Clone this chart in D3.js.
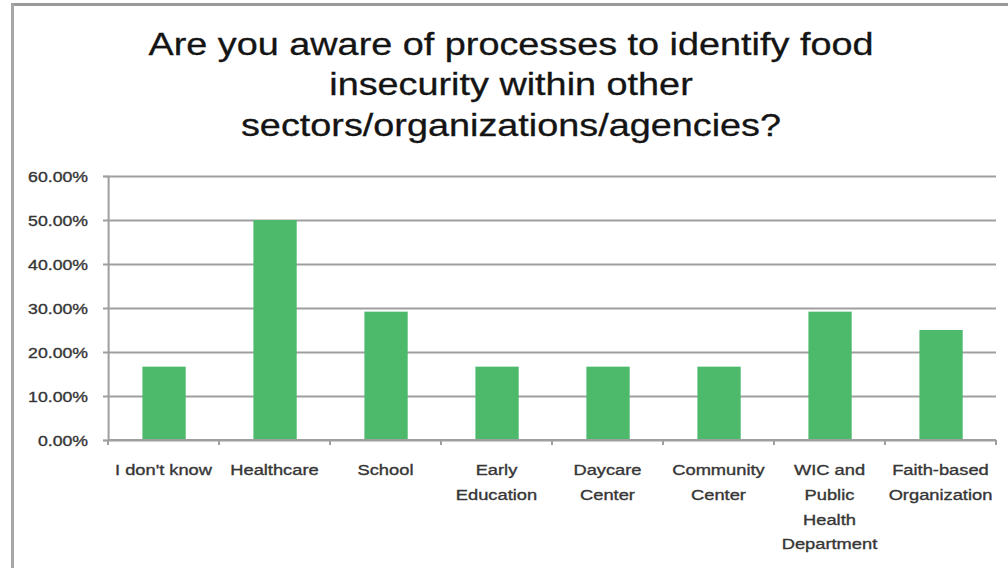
<!DOCTYPE html>
<html>
<head>
<meta charset="utf-8">
<script src="https://cdn.jsdelivr.net/npm/d3@7"></script>
<style>
  body { margin: 0; background: #fff; }
  text { font-family: "Liberation Sans", Arial, sans-serif; }
</style>
</head>
<body>
<svg id="chart"></svg>
<script>
const titleLines = [
  "Are you aware of processes to identify food",
  "insecurity within other",
  "sectors/organizations/agencies?"
];
const categories = ["I don't know", "Healthcare", "School", "Early Education",
  "Daycare Center", "Community Center", "WIC and Public Health Department",
  "Faith-based Organization"];
const labelLines = [
  ["I don't know"], ["Healthcare"], ["School"], ["Early", "Education"],
  ["Daycare", "Center"], ["Community", "Center"],
  ["WIC and", "Public", "Health", "Department"],
  ["Faith-based", "Organization"]
];
const values = [0.1667, 0.50, 0.2917, 0.1667, 0.1667, 0.1667, 0.2917, 0.25];
const yTicks = [0, 0.1, 0.2, 0.3, 0.4, 0.5, 0.6];

// the source picture is stretched horizontally, so draw in a narrower box
const k = 1.22;
const W = 1008, H = 568;
const plot = {left: 108 / k, right: 996 / k, top: 176, bottom: 440};
const gridColor = "#9f9f9f";
const labelColor = "#363636";

const svg = d3.select("#chart")
  .attr("width", W)
  .attr("height", H)
  .attr("viewBox", `0 0 ${W / k} ${H}`)
  .attr("preserveAspectRatio", "none");

// frame edges
svg.append("line")
  .attr("x1", 12 / k).attr("x2", W / k).attr("y1", 4.5).attr("y2", 4.5)
  .attr("stroke", "#9a9a9a").attr("stroke-width", 3);
svg.append("line")
  .attr("x1", 12.5 / k).attr("x2", 12.5 / k).attr("y1", 3).attr("y2", H)
  .attr("stroke", "#a6a6a6").attr("stroke-width", 3 / k);

svg.append("g")
  .selectAll("text")
  .data(titleLines)
  .enter()
  .append("text")
  .attr("x", 511 / k)
  .attr("y", (d, i) => 55 + i * 40.5)
  .attr("text-anchor", "middle")
  .attr("font-size", 31)
  .attr("fill", "#141414")
  .attr("stroke", "#141414")
  .attr("stroke-width", 0.3)
  .text(d => d);

const x = d3.scaleBand()
  .domain(categories)
  .range([plot.left, plot.right])
  .padding(0);

const y = d3.scaleLinear()
  .domain([0, 0.6])
  .range([plot.bottom, plot.top]);

// gridlines
svg.append("g")
  .attr("class", "grid")
  .attr("transform", `translate(${plot.left},0)`)
  .call(d3.axisLeft(y).tickValues(yTicks).tickSize(-(plot.right - plot.left)).tickFormat(""))
  .call(g => g.select(".domain").remove())
  .call(g => g.selectAll("line").attr("stroke", gridColor).attr("stroke-width", 2));

// y axis
svg.append("g")
  .attr("class", "y-axis")
  .attr("transform", `translate(${plot.left},0)`)
  .call(d3.axisLeft(y).tickValues(yTicks).tickSize(5 / k).tickFormat(d3.format(".2%")))
  .call(g => g.select(".domain").attr("stroke", gridColor).attr("stroke-width", 2 / k))
  .call(g => g.selectAll(".tick line").attr("stroke", gridColor).attr("stroke-width", 2))
  .call(g => g.selectAll(".tick text")
    .attr("x", -20 / k)
    .attr("dy", "0.36em")
    .attr("font-size", 14.5)
    .attr("font-family", "'Liberation Sans', Arial, sans-serif")
    .attr("fill", labelColor)
    .attr("stroke", labelColor)
    .attr("stroke-width", 0.35));

// bars
svg.append("g")
  .selectAll("rect")
  .data(values)
  .enter()
  .append("rect")
  .attr("x", (v, i) => x(categories[i]) + x.bandwidth() * 0.31)
  .attr("width", x.bandwidth() * 0.39)
  .attr("y", v => y(v))
  .attr("height", v => y(0) - y(v))
  .attr("fill", "#4cb96b");

// x axis with ticks at category boundaries
const bounds = categories.map(c => x(c)).concat([plot.right]);
const xAxisG = svg.append("g").attr("class", "x-axis");
xAxisG.append("line")
  .attr("x1", plot.left).attr("x2", plot.right)
  .attr("y1", plot.bottom).attr("y2", plot.bottom)
  .attr("stroke", gridColor).attr("stroke-width", 2);
xAxisG.selectAll(".tick")
  .data(bounds)
  .enter()
  .append("line")
  .attr("x1", d => d).attr("x2", d => d)
  .attr("y1", plot.bottom).attr("y2", plot.bottom + 5)
  .attr("stroke", gridColor).attr("stroke-width", 2 / k);

const labels = xAxisG.selectAll(".lbl")
  .data(categories)
  .enter()
  .append("text")
  .attr("class", "lbl")
  .attr("text-anchor", "middle")
  .attr("font-size", 15)
  .attr("fill", labelColor)
  .attr("stroke", labelColor)
  .attr("stroke-width", 0.35);
labels.selectAll("tspan")
  .data((c, i) => labelLines[i].map(t => ({t, c})))
  .enter()
  .append("tspan")
  .attr("x", d => x(d.c) + x.bandwidth() / 2)
  .attr("y", (d, j) => 475 + j * 24.8)
  .text(d => d.t);
</script>
</body>
</html>
